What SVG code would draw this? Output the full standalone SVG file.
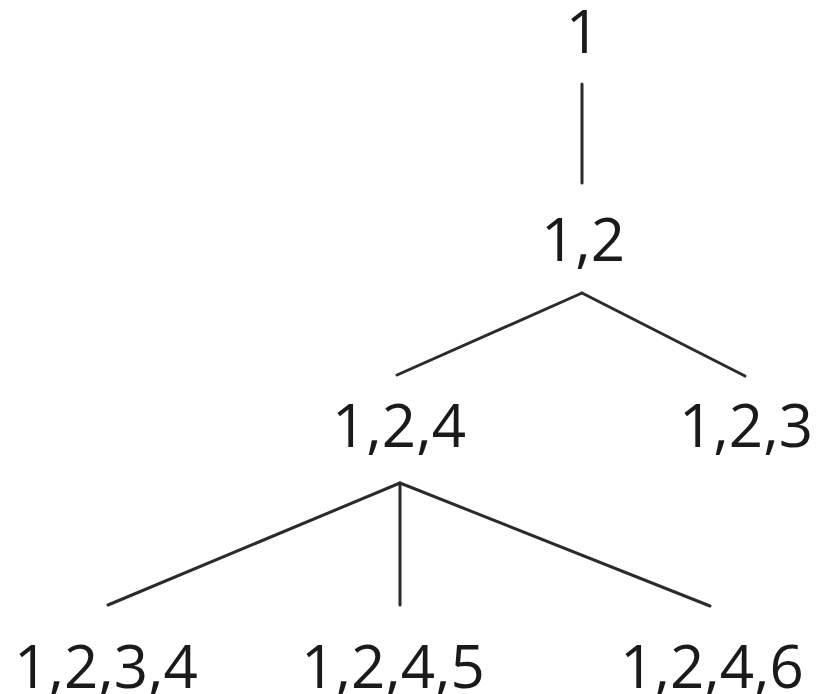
<svg xmlns="http://www.w3.org/2000/svg" width="818" height="694" viewBox="0 0 818 694">
<style>
.lbl{font-family:"Open Sans","Liberation Sans",sans-serif;font-size:60px;fill:#1a1a1a;text-anchor:middle}
.edge{stroke:#2b2b2b;stroke-width:3;fill:none;stroke-linecap:round}
</style>
<rect width="818" height="694" fill="#ffffff"/>
<g id="connectors">
<line class="edge" x1="582" y1="84" x2="582" y2="183"/>
<line class="edge" x1="582" y1="293" x2="397" y2="375"/>
<line class="edge" x1="582" y1="293" x2="745" y2="376"/>
<line class="edge" x1="400" y1="483" x2="108" y2="605"/>
<line class="edge" x1="400" y1="483" x2="400" y2="605"/>
<line class="edge" x1="400" y1="483" x2="710" y2="606"/>
</g>
<g id="n1"><text class="lbl" x="583" y="53">1</text></g>
<g id="n12"><text class="lbl" x="583" y="261">1,2</text></g>
<g id="n124"><text class="lbl" x="399" y="447">1,2,4</text></g>
<g id="n123"><text class="lbl" x="746" y="447">1,2,3</text></g>
<g id="n1234"><text class="lbl" x="106" y="688">1,2,3,4</text></g>
<g id="n1245"><text class="lbl" x="393" y="688">1,2,4,5</text></g>
<g id="n1246"><text class="lbl" x="712" y="688">1,2,4,6</text></g>
</svg>
